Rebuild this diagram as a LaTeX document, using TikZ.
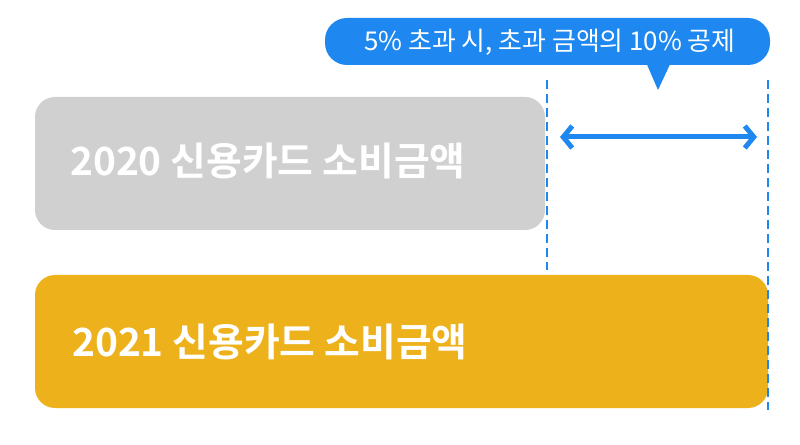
\documentclass[tikz,border=0pt]{standalone}
\usepackage{fontspec}
\setmainfont{Noto Sans CJK KR}
\newfontfamily\krb{Noto Sans CJK KR}[BoldFont={* Bold}]
\usetikzlibrary{arrows.meta}
\definecolor{myblue}{HTML}{1E88F0}
\definecolor{mygray}{HTML}{D0D0D0}
\definecolor{myyellow}{HTML}{EDB21B}
\tikzset{
  bartext/.style={text=white, font=\krb\bfseries\fontsize{39}{42}\selectfont, anchor=west, inner sep=0pt},
  guide/.style={myblue, line width=2bp, dash pattern=on 9bp off 5bp},
}
\begin{document}
\begin{tikzpicture}[x=1bp,y=-1bp]
\useasboundingbox (0,0) rectangle (800,445);
\fill[white] (0,0) rectangle (800,445);
\fill[mygray, rounded corners=20bp] (35,97) rectangle (545,230);
\node[bartext] (t2020) at (70,161) {2020 신용카드 소비금액};
\fill[myyellow, rounded corners=20bp] (35,275) rectangle (768,408);
\node[bartext] (t2021) at (72,342) {2021 신용카드 소비금액};
\coordinate (l1a) at (547,80); \coordinate (l1b) at (547,270);
\coordinate (l2a) at (768,80); \coordinate (l2b) at (768,410);
\draw[guide] (l1a) -- (l1b);
\draw[guide] (l2a) -- (l2b);
\coordinate (aL) at (560,137); \coordinate (aR) at (757,137);
\draw[myblue, line width=5bp, line cap=round, {Straight Barb[length=9bp,width=22bp]}-{Straight Barb[length=9bp,width=22bp]}] (aL) -- (aR);
\fill[myblue, rounded corners=22bp] (325,18) rectangle (770,65);
\fill[myblue] (645,60) -- (658,90) -- (672,60) -- cycle;
\node[text=white, font=\fontsize{26}{30}\selectfont] (call) at (550,42) {5\% 초과 시, 초과 금액의 10\% 공제};
\end{tikzpicture}
\end{document}
